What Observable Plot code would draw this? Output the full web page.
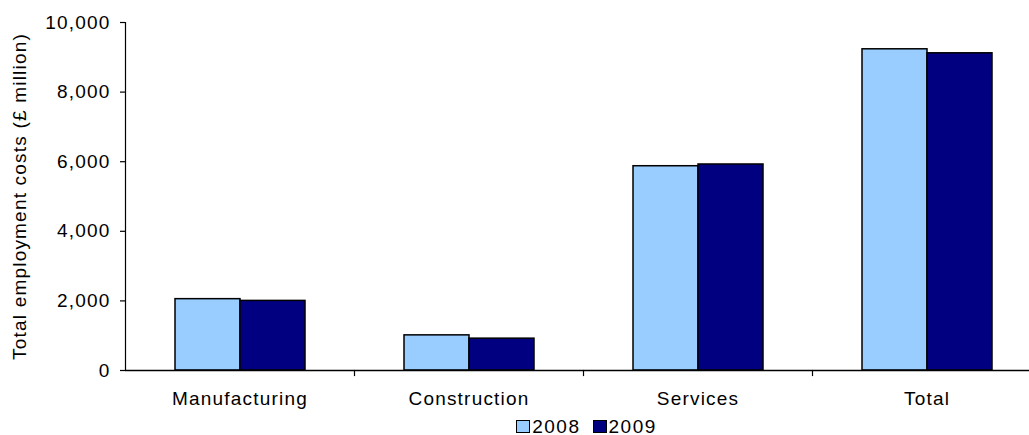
<!DOCTYPE html>
<html>
<head>
<meta charset="utf-8">
<script src="https://cdn.jsdelivr.net/npm/d3@7"></script>
<script src="https://cdn.jsdelivr.net/npm/@observablehq/plot@0.6"></script>
<style>
  body { margin: 0; background: #fff; font-family: "Liberation Sans", Arial, sans-serif; }
  #legend {
    display: flex; justify-content: center;
    padding-left: 156px; padding-top: 6px; height: 17px;
    font-size: 19px; letter-spacing: 1.5px; line-height: 18px; color: #000;
  }
  .item { display: flex; align-items: center; margin-right: 12px; }
  .sw { width: 14px; height: 13px; box-sizing: border-box; border: 1px solid #000; margin-right: 2px; }
</style>
</head>
<body>
<div id="chart"></div>
<div id="legend"></div>
<script>
// Total employment costs by sector, £ million
const categories = ["Manufacturing", "Construction", "Services", "Total"];
const years = ["2008", "2009"];
const values2008 = [2050, 1010, 5870, 9230];
const values2009 = [2000, 915, 5920, 9115];
const yTicks = [0, 2000, 4000, 6000, 8000, 10000];
const colors = ["#99CCFF", "#000080"];
const yLabel = "Total employment costs (£ million)";

const rows = [];
categories.forEach((c, i) => {
  rows.push({category: c, year: years[0], value: values2008[i]});
  rows.push({category: c, year: years[1], value: values2009[i]});
});

const chart = Plot.plot({
  width: 1029,
  height: 412,
  marginLeft: 125,
  marginRight: -12,
  marginTop: 22,
  marginBottom: 42,
  style: {fontFamily: "'Liberation Sans', Arial, sans-serif", fontSize: "19px", letterSpacing: "1.2px", color: "#000", background: "#fff"},
  fx: {domain: categories, padding: 0},
  x: {domain: years, paddingInner: 0, paddingOuter: 0.75, axis: null},
  y: {domain: [0, 10000]},
  color: {domain: years, range: colors},
  marks: [
    Plot.barY(rows, {fx: "category", x: "year", y: "value", fill: "year", stroke: "#000", strokeWidth: 1.5}),
    Plot.ruleY([0], {stroke: "#000", strokeWidth: 1.5}),
    // boundary ticks between categories, below the baseline
    Plot.frame({anchor: "right", insetTop: 348, insetBottom: -5, stroke: "#000", strokeWidth: 1.2}),
    // vertical value axis line
    Plot.frame({anchor: "left", facetAnchor: "left", stroke: "#000", strokeWidth: 1.2}),
    Plot.axisY({
      ticks: yTicks, tickSize: 5, tickPadding: 10, tickFormat: d3.format(","),
      label: yLabel, labelAnchor: "center", labelOffset: 113, labelArrow: "none",
      strokeWidth: 1.2
    }),
    Plot.axisFx({anchor: "bottom", tickSize: 0, tickPadding: 21, label: null})
  ]
});
document.getElementById("chart").appendChild(chart);

const legend = document.getElementById("legend");
years.forEach((y, i) => {
  const item = document.createElement("div");
  item.className = "item";
  const sw = document.createElement("span");
  sw.className = "sw";
  sw.style.background = colors[i];
  const t = document.createElement("span");
  t.textContent = y;
  item.appendChild(sw);
  item.appendChild(t);
  legend.appendChild(item);
});
</script>
</body>
</html>
